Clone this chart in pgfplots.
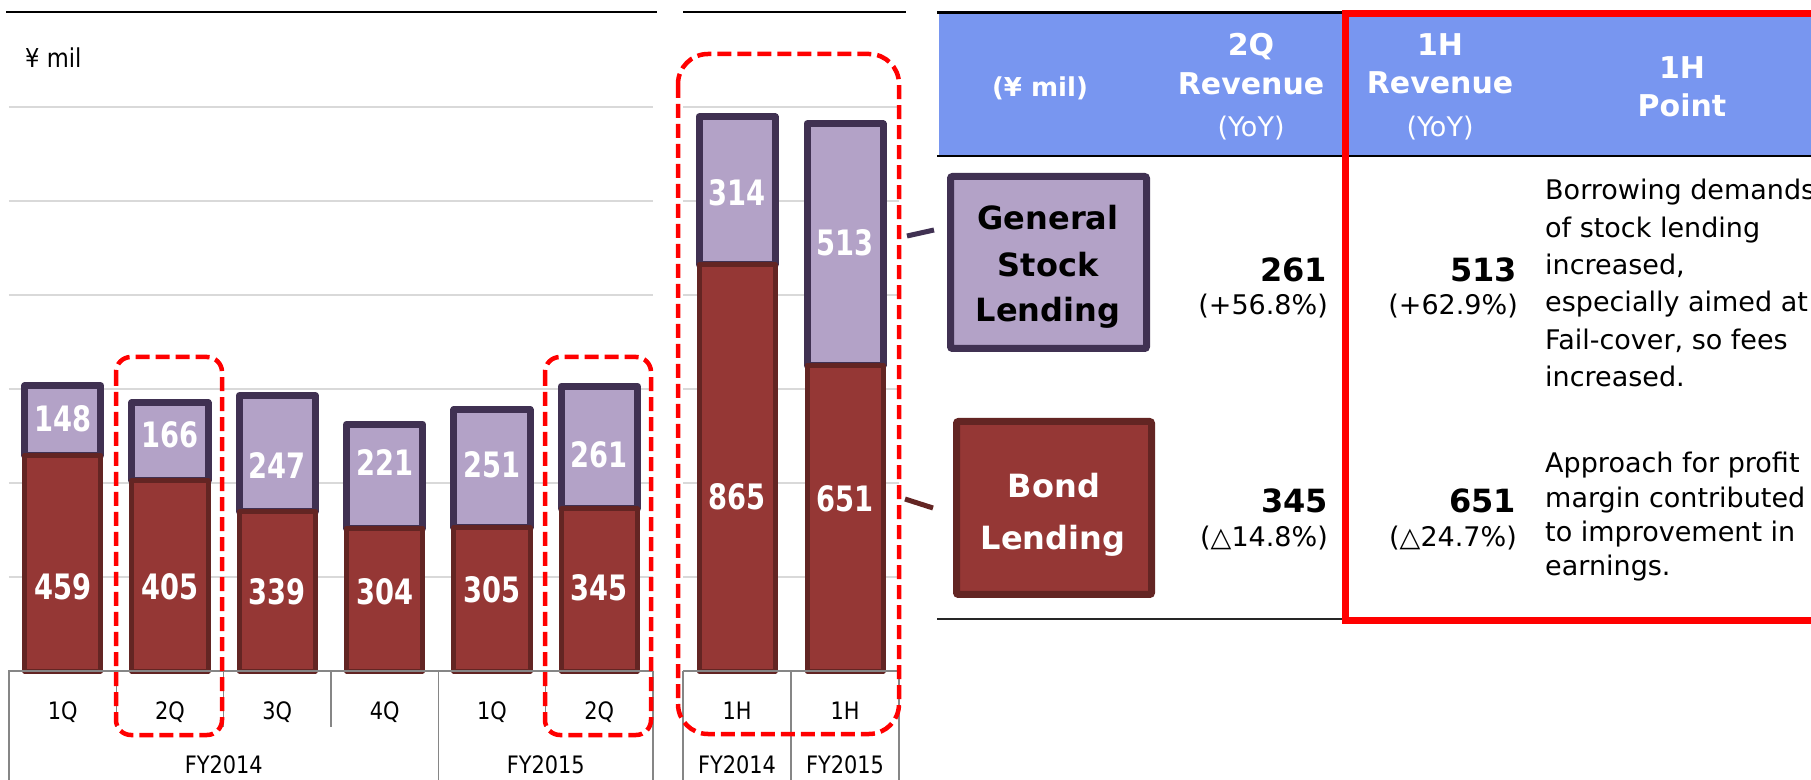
\documentclass[border=0pt]{standalone}
\usepackage{pgfplots}
\pgfplotsset{compat=1.18}
\usepackage{fontspec}
\setmainfont{DejaVu Sans}
\newfontfamily\tah[FakeStretch=0.87]{DejaVu Sans}
\newfontfamily\barfont[FakeStretch=0.78]{DejaVu Sans}
\definecolor{stockfill}{RGB}{179,162,199}
\definecolor{stockdraw}{RGB}{64,49,82}
\definecolor{bondfill}{RGB}{149,55,53}
\definecolor{bonddraw}{RGB}{99,37,35}
\definecolor{hdrblue}{RGB}{120,150,240}
\definecolor{gridgray}{RGB}{217,217,217}
\definecolor{axgray}{RGB}{134,134,134}
\definecolor{pureRed}{RGB}{255,0,0}

\begin{document}
\begin{tikzpicture}[x=1pt,y=1pt]

\tikzset{
  lab/.style={text=white, font=\barfont\bfseries\fontsize{35}{40}\selectfont, inner sep=0pt, anchor=center},
}
\pgfplotsset{
  barchart/.style={
    scale only axis, height=564pt, ymin=0, ymax=1200,
    anchor=south west,
    ybar stacked, bar width=76pt,
    axis line style={draw=none}, major tick length=0pt,
    xtick=\empty, yticklabels={},
    ytick={200,400,600,800,1000,1200},
    ymajorgrids, grid style={gridgray, line width=1.8pt},
    clip=false,
  },
  labelaxis/.style={
    scale only axis, height=564pt, ymin=0, ymax=1200,
    anchor=south west, hide axis, clip=false,
  },
  labelplot/.style={
    only marks, mark=none, point meta=explicit symbolic,
    nodes near coords, nodes near coords align={center},
    every node near coord/.append style={lab},
  },
}

% ---------- quarterly chart ----------
\begin{axis}[barchart, at={(9pt,108pt)}, width=644pt, xmin=-0.5, xmax=5.5]
\addplot[fill=bondfill, draw=bonddraw, line width=5pt, line join=round]
  coordinates {(0,459) (1,405) (2,339) (3,304) (4,305) (5,345)};
\addplot[fill=stockfill, draw=stockdraw, line width=7pt, line join=round]
  coordinates {(0,148) (1,166) (2,247) (3,221) (4,251) (5,261)};
\end{axis}
\begin{axis}[labelaxis, at={(9pt,108pt)}, width=644pt, xmin=-0.5, xmax=5.5]
\addplot[labelplot] coordinates {
  (0,536)[148] (0,179)[459]
  (1,502)[166] (1,179)[405]
  (2,438)[247] (2,168)[339]
  (3,443)[221] (3,168)[304]
  (4,438)[251] (4,172)[305]
  (5,460)[261] (5,177)[345]};
\end{axis}

% ---------- half-year chart ----------
\begin{axis}[barchart, at={(683pt,108pt)}, width=216pt, xmin=-0.5, xmax=1.5]
\addplot[fill=bondfill, draw=bonddraw, line width=5pt, line join=round]
  coordinates {(0,865) (1,651)};
\addplot[fill=stockfill, draw=stockdraw, line width=7pt, line join=round]
  coordinates {(0,314) (1,513)};
\end{axis}
\begin{axis}[labelaxis, at={(683pt,108pt)}, width=216pt, xmin=-0.5, xmax=1.5]
\addplot[labelplot] coordinates {
  (0,1017)[314] (0,370)[865]
  (1,911)[513] (1,366)[651]};
\end{axis}

\begin{scope}[y=-1pt, yshift=779pt]
\tikzset{
  catlab/.style={anchor=base, inner sep=0pt, font=\tah\fontsize{24}{28}\selectfont},
  reddash/.style={draw=pureRed, line width=4.5pt, dash pattern=on 14pt off 6pt, rounded corners=15pt},
  hb/.style={anchor=base, inner sep=0pt, text=white, font=\bfseries\fontsize{30}{36}\selectfont},
  hr/.style={anchor=base, inner sep=0pt, text=white, font=\fontsize{27}{32}\selectfont},
  numb/.style={anchor=base east, inner sep=0pt, font=\bfseries\fontsize{32}{38}\selectfont},
  numr/.style={anchor=base east, inner sep=0pt, font=\fontsize{27}{32}\selectfont},
  pt/.style={anchor=base west, inner sep=0pt, font=\fontsize{27}{32}\selectfont},
  boxb/.style={anchor=base, inner sep=0pt, font=\bfseries\fontsize{32}{38}\selectfont},
}
% top rules of the charts
\draw[black, line width=2.5pt] (6,12) -- (657,12);
\draw[black, line width=2.5pt] (683,12) -- (906,12);
\node[anchor=base west, inner sep=0pt, font=\tah\fontsize{26}{30}\selectfont] at (25,68) {¥ mil};

% category table (left)
\draw[axgray, line width=1.5pt] (8,671) -- (653,671);
\foreach \x in {116.3,223.7,331,545.7} \draw[axgray, line width=1.5pt] (\x,671) -- (\x,727);
\foreach \x in {9,438.3,653} \draw[axgray, line width=1.5pt] (\x,671) -- (\x,782);
% category table (right)
\draw[axgray, line width=1.5pt] (683,671) -- (899,671);
\foreach \x in {683,791,899} \draw[axgray, line width=1.5pt] (\x,671) -- (\x,782);

\node[catlab] at (62.7,719) {1Q};
\node[catlab] at (170,719) {2Q};
\node[catlab] at (277.3,719) {3Q};
\node[catlab] at (384.7,719) {4Q};
\node[catlab] at (492,719) {1Q};
\node[catlab] at (599.3,719) {2Q};
\node[catlab] at (223.7,773) {FY2014};
\node[catlab] at (545.7,773) {FY2015};
\node[catlab] at (737,719) {1H};
\node[catlab] at (845,719) {1H};
\node[catlab] at (737,773) {FY2014};
\node[catlab] at (845,773) {FY2015};

% red dashed highlight boxes
\draw[reddash] (116,357) rectangle (222,735);
\draw[reddash] (545,357) rectangle (651,735);
\draw[reddash, rounded corners=30pt] (678,54) rectangle (899,734);

% ---------- table ----------
\fill[hdrblue] (939,13.5) rectangle (1811,156);
\draw[black, line width=2.5pt] (937,12.5) -- (1811,12.5);
\draw[black, line width=2.5pt] (937,156) -- (1811,156);
\draw[black!85, line width=2.5pt] (937,619) -- (1345,619);

\node[anchor=base, inner sep=0pt, text=white, font=\bfseries\fontsize{26}{30}\selectfont] at (1040,97) {(¥ mil)};
\node[hb] at (1251,56) {2Q};
\node[hb] at (1251,95) {Revenue};
\node[hr] at (1251,137) {(YoY)};
\node[hb] at (1440,56) {1H};
\node[hb] at (1440,94) {Revenue};
\node[hr] at (1440,137) {(YoY)};
\node[hb] at (1682,79) {1H};
\node[hb] at (1682,117) {Point};

% connectors and legend boxes
\draw[stockdraw, line width=5pt] (907,236) -- (934,230);
\draw[bonddraw, line width=5pt] (905,499) -- (933,508);
\draw[fill=stockfill, draw=stockdraw, line width=7pt, rounded corners=2pt] (950.5,176.5) rectangle (1146.5,348.5);
\draw[fill=bondfill, draw=bonddraw, line width=7pt, rounded corners=2pt] (956.5,421.5) rectangle (1151.5,594.5);
\node[boxb] at (1048,230) {General};
\node[boxb] at (1048,277) {Stock};
\node[boxb] at (1048,322) {Lending};
\node[boxb, text=white] at (1054,498) {Bond};
\node[boxb, text=white] at (1053,550) {Lending};

% numbers
\node[numb] at (1327,282) {261};
\node[numr] at (1328,315) {(+56.8\%)};
\node[numb] at (1328,513) {345};
\node[numr] at (1328,547) {(△14.8\%)};
\node[numb] at (1517,282) {513};
\node[numr] at (1518,315) {(+62.9\%)};
\node[numb] at (1516,513) {651};
\node[numr] at (1517,547) {(△24.7\%)};

% points
\node[pt] at (1545,200) {Borrowing demands};
\node[pt] at (1545,237.5) {of stock lending};
\node[pt] at (1545,275) {increased,};
\node[pt] at (1545,312) {especially aimed at};
\node[pt] at (1545,349.5) {Fail-cover, so fees};
\node[pt] at (1545,387) {increased.};
\node[pt] at (1545,473) {Approach for profit};
\node[pt] at (1545,508) {margin contributed};
\node[pt] at (1545,542) {to improvement in};
\node[pt] at (1545,576) {earnings.};

% red frame
\draw[pureRed, line width=7pt] (1345.5,13.5) rectangle (1830,620.5);
\end{scope}

\pgfresetboundingbox
\useasboundingbox (0,0) rectangle (1811,779);
\end{tikzpicture}
\end{document}
